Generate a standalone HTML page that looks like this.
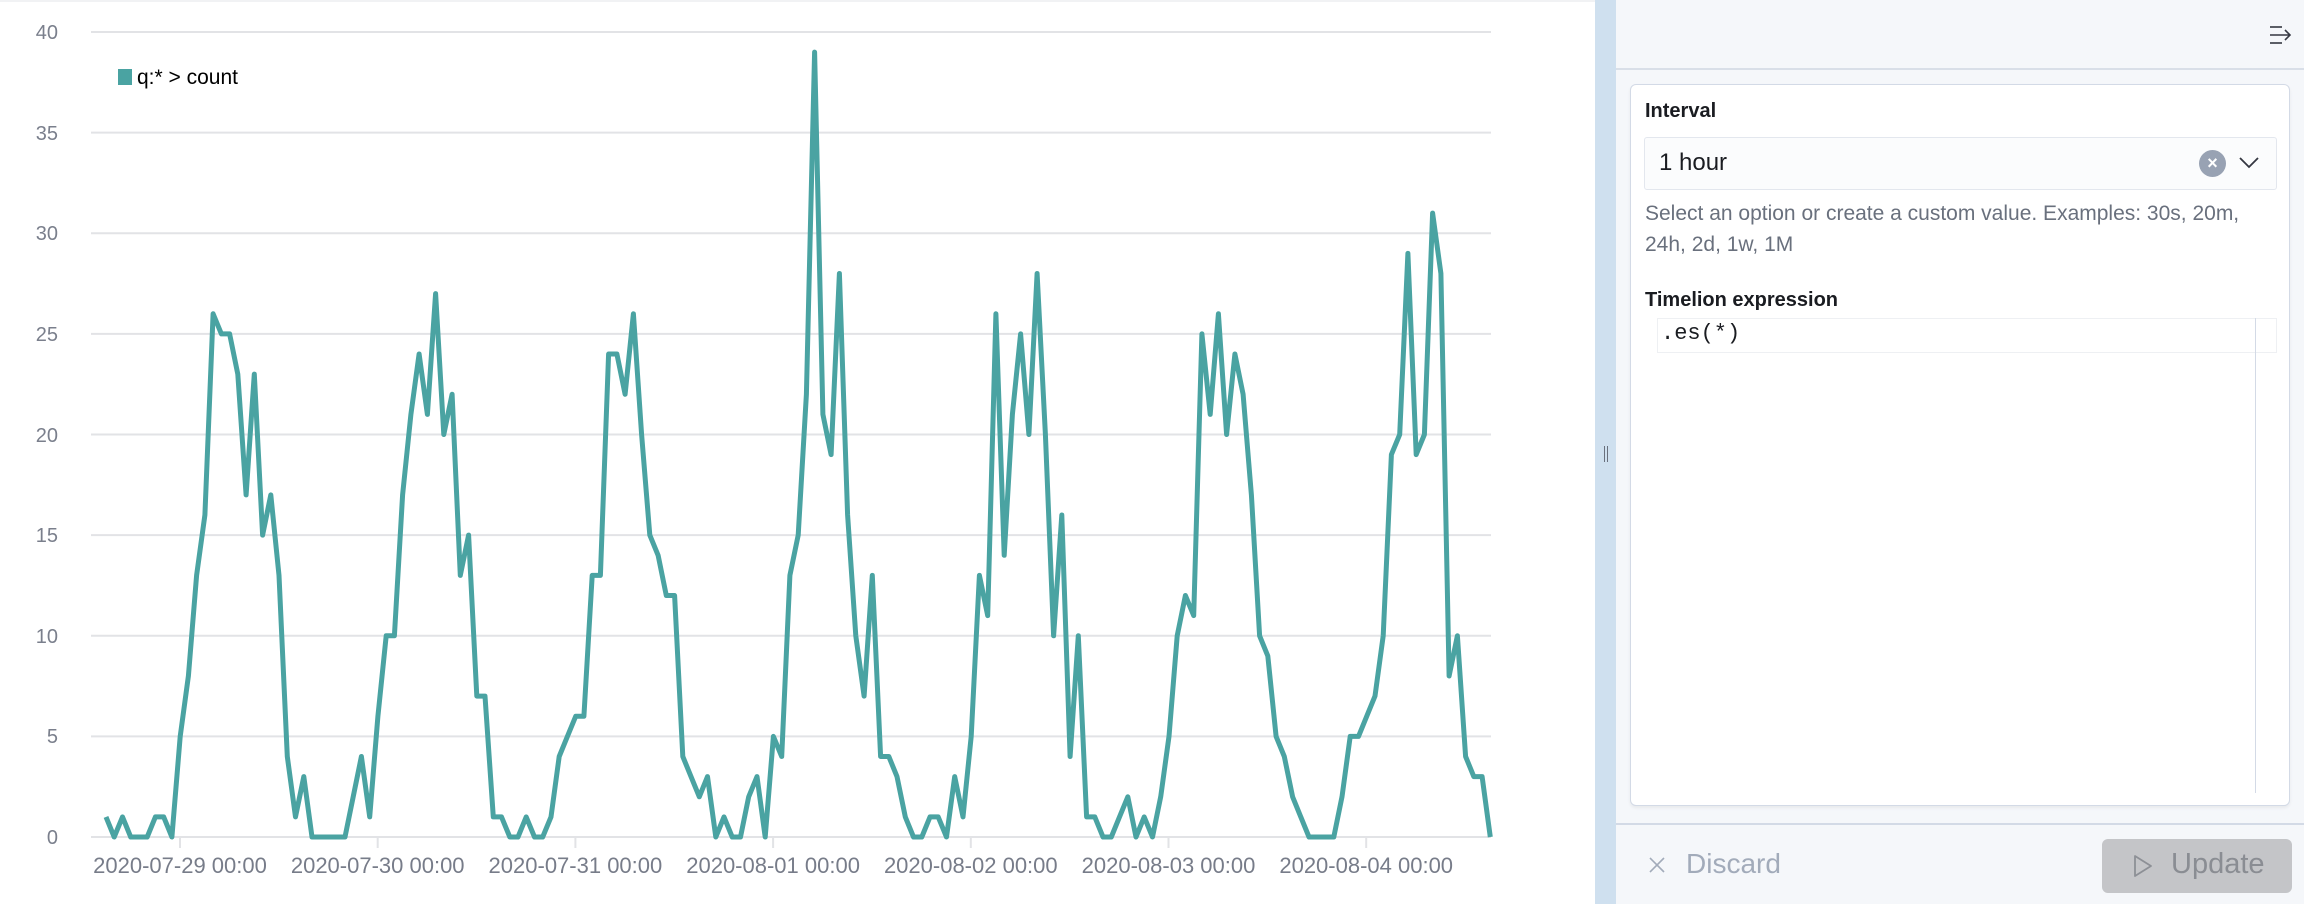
<!DOCTYPE html>
<html><head><meta charset="utf-8"><style>
html,body{margin:0;padding:0;width:2304px;height:904px;overflow:hidden;background:#fff;font-family:"Liberation Sans",sans-serif;}
.abs{position:absolute;}
</style></head><body>
<svg class="abs" style="left:0;top:0" width="1595" height="904">
<line x1="0" y1="1" x2="1595" y2="1" stroke="#f1f2f4" stroke-width="2"/>
<g stroke="#e2e3e6" stroke-width="2">
<line x1="91" x2="1491" y1="32" y2="32"/><line x1="91" x2="1491" y1="132.6" y2="132.6"/>
<line x1="91" x2="1491" y1="233.2" y2="233.2"/><line x1="91" x2="1491" y1="333.9" y2="333.9"/>
<line x1="91" x2="1491" y1="434.5" y2="434.5"/><line x1="91" x2="1491" y1="535.1" y2="535.1"/>
<line x1="91" x2="1491" y1="635.8" y2="635.8"/><line x1="91" x2="1491" y1="736.4" y2="736.4"/>
<line x1="91" x2="1491" y1="837" y2="837"/>
<line x1="180" x2="180" y1="837" y2="848"/><line x1="377.7" x2="377.7" y1="837" y2="848"/>
<line x1="575.4" x2="575.4" y1="837" y2="848"/><line x1="773.1" x2="773.1" y1="837" y2="848"/>
<line x1="970.8" x2="970.8" y1="837" y2="848"/><line x1="1168.5" x2="1168.5" y1="837" y2="848"/>
<line x1="1366.2" x2="1366.2" y1="837" y2="848"/>
</g>
<g fill="#7a7f8c" font-size="20" text-anchor="end" font-family="Liberation Sans, sans-serif">
<text x="58" y="39">40</text><text x="58" y="140">35</text><text x="58" y="240">30</text>
<text x="58" y="341">25</text><text x="58" y="442">20</text><text x="58" y="542">15</text>
<text x="58" y="643">10</text><text x="58" y="743">5</text><text x="58" y="844">0</text>
</g>
<g fill="#777c89" font-size="22" text-anchor="middle" font-family="Liberation Sans, sans-serif">
<text x="180" y="873">2020-07-29 00:00</text><text x="377.7" y="873">2020-07-30 00:00</text>
<text x="575.4" y="873">2020-07-31 00:00</text><text x="773.1" y="873">2020-08-01 00:00</text>
<text x="970.8" y="873">2020-08-02 00:00</text><text x="1168.5" y="873">2020-08-03 00:00</text>
<text x="1366.2" y="873">2020-08-04 00:00</text>
</g>
<polyline id="ln" fill="none" stroke="#4aa3a2" stroke-width="5" stroke-linejoin="round" points=""/>
<rect x="118" y="69" width="14" height="16" fill="#4aa3a2"/>
<text x="137" y="84" font-size="21" fill="#000" font-family="Liberation Sans, sans-serif">q:* &gt; count</text>
</svg>
<script>
var d=[1,0,1,0,0,0,1,1,0,
5,8,13,16,26,25,25,23,17,23,15,17,13,4,1,3,0,0,0,0,0,2,4,1,6,10,10,17,21,24,21,27,20,22,13,
15,7,7,1,1,0,0,1,0,0,1,4,5,6,6,13,13,24,24,22,26,20,15,14,12,12,4,3,2,3,0,1,0,0,2,3,0,5,4,13,15,22,39,
21,19,28,16,10,7,13,4,4,3,1,0,0,1,1,0,3,1,5,13,11,26,14,21,25,20,28,20,10,16,4,10,1,1,0,0,1,2,0,1,0,2,
5,10,12,11,25,21,26,20,24,22,17,10,9,5,4,2,1,0,0,0,0,2,5,5,6,7,10,19,20,29,19,20,31,28,8,10,4,3,3,0];
var p=[];for(var i=0;i<d.length;i++){p.push((106+i*8.24).toFixed(1)+","+(837-d[i]*20.125).toFixed(1));}
document.getElementById("ln").setAttribute("points",p.join(" "));
</script>
<div class="abs" style="left:1595px;top:0;width:21px;height:904px;background:#cfe0ef;"></div>
<div class="abs" style="left:1604px;top:446px;width:1px;height:16px;background:#69707d;"></div>
<div class="abs" style="left:1607px;top:446px;width:1px;height:16px;background:#69707d;"></div>
<div class="abs" style="left:1616px;top:0;width:688px;height:904px;background:#f5f7fa;"></div>
<div class="abs" style="left:1616px;top:68px;width:688px;height:2px;background:#d9dfe8;"></div>
<svg class="abs" style="left:2268px;top:24px" width="28" height="22"><g stroke="#343741" stroke-width="1.6" fill="none"><line x1="2" y1="3" x2="14" y2="3"/><line x1="2" y1="11" x2="22" y2="11"/><line x1="2" y1="19" x2="14" y2="19"/><polyline points="17,6 22,11 17,16"/></g></svg>
<div class="abs" style="left:1630px;top:84px;width:660px;height:722px;background:#fff;border:1px solid #d3dae6;border-radius:6px;box-shadow:0 2px 3px rgba(0,0,0,0.06);box-sizing:border-box;"></div>
<div class="abs" style="left:1645px;top:100px;font-size:20px;font-weight:bold;color:#1a1c21;">Interval</div>
<div class="abs" style="left:1644px;top:137px;width:633px;height:53px;background:#fbfcfd;border:1px solid #e3e7ee;border-radius:3px;box-sizing:border-box;"></div>
<div class="abs" style="left:1659px;top:149px;font-size:24px;color:#1a1c21;">1 hour</div>
<div class="abs" style="left:2199px;top:150px;width:27px;height:27px;border-radius:50%;background:#98a2b3;color:#fff;font-size:18px;font-weight:bold;text-align:center;line-height:27px;">×</div>
<svg class="abs" style="left:2238px;top:154px" width="22" height="16"><polyline points="2,4 11,13 20,4" fill="none" stroke="#343741" stroke-width="1.8"/></svg>
<div class="abs" style="left:1645px;top:198px;width:640px;font-size:21px;line-height:31px;color:#69707d;">Select an option or create a custom value. Examples: 30s, 20m,<br>24h, 2d, 1w, 1M</div>
<div class="abs" style="left:1645px;top:289px;font-size:20px;font-weight:bold;color:#1a1c21;">Timelion expression</div>
<div class="abs" style="left:1657px;top:318px;width:620px;height:35px;border:1px solid #eef0f3;box-sizing:border-box;"></div>
<div class="abs" style="left:1661px;top:321px;font-family:'Liberation Mono',monospace;font-size:22px;color:#1a1c21;">.es(*)</div>
<div class="abs" style="left:2255px;top:318px;width:1px;height:475px;background:#d3dae6;"></div>
<div class="abs" style="left:1616px;top:823px;width:688px;height:2px;background:#d3dae6;"></div>
<svg class="abs" style="left:1648px;top:856px" width="18" height="18"><g stroke="#a2abba" stroke-width="1.6"><line x1="2" y1="2" x2="16" y2="16"/><line x1="16" y1="2" x2="2" y2="16"/></g></svg>
<div class="abs" style="left:1686px;top:848px;font-size:28px;color:#a2abba;">Discard</div>
<div class="abs" style="left:2102px;top:839px;width:190px;height:54px;background:#c4c5c8;border-radius:6px;"></div>
<svg class="abs" style="left:2131px;top:853px" width="24" height="26"><polygon points="4,3 20,13 4,23" fill="none" stroke="#8d9096" stroke-width="1.8" stroke-linejoin="round"/></svg>
<div class="abs" style="left:2171px;top:848px;font-size:29px;color:#8a8d93;">Update</div>
</body></html>
